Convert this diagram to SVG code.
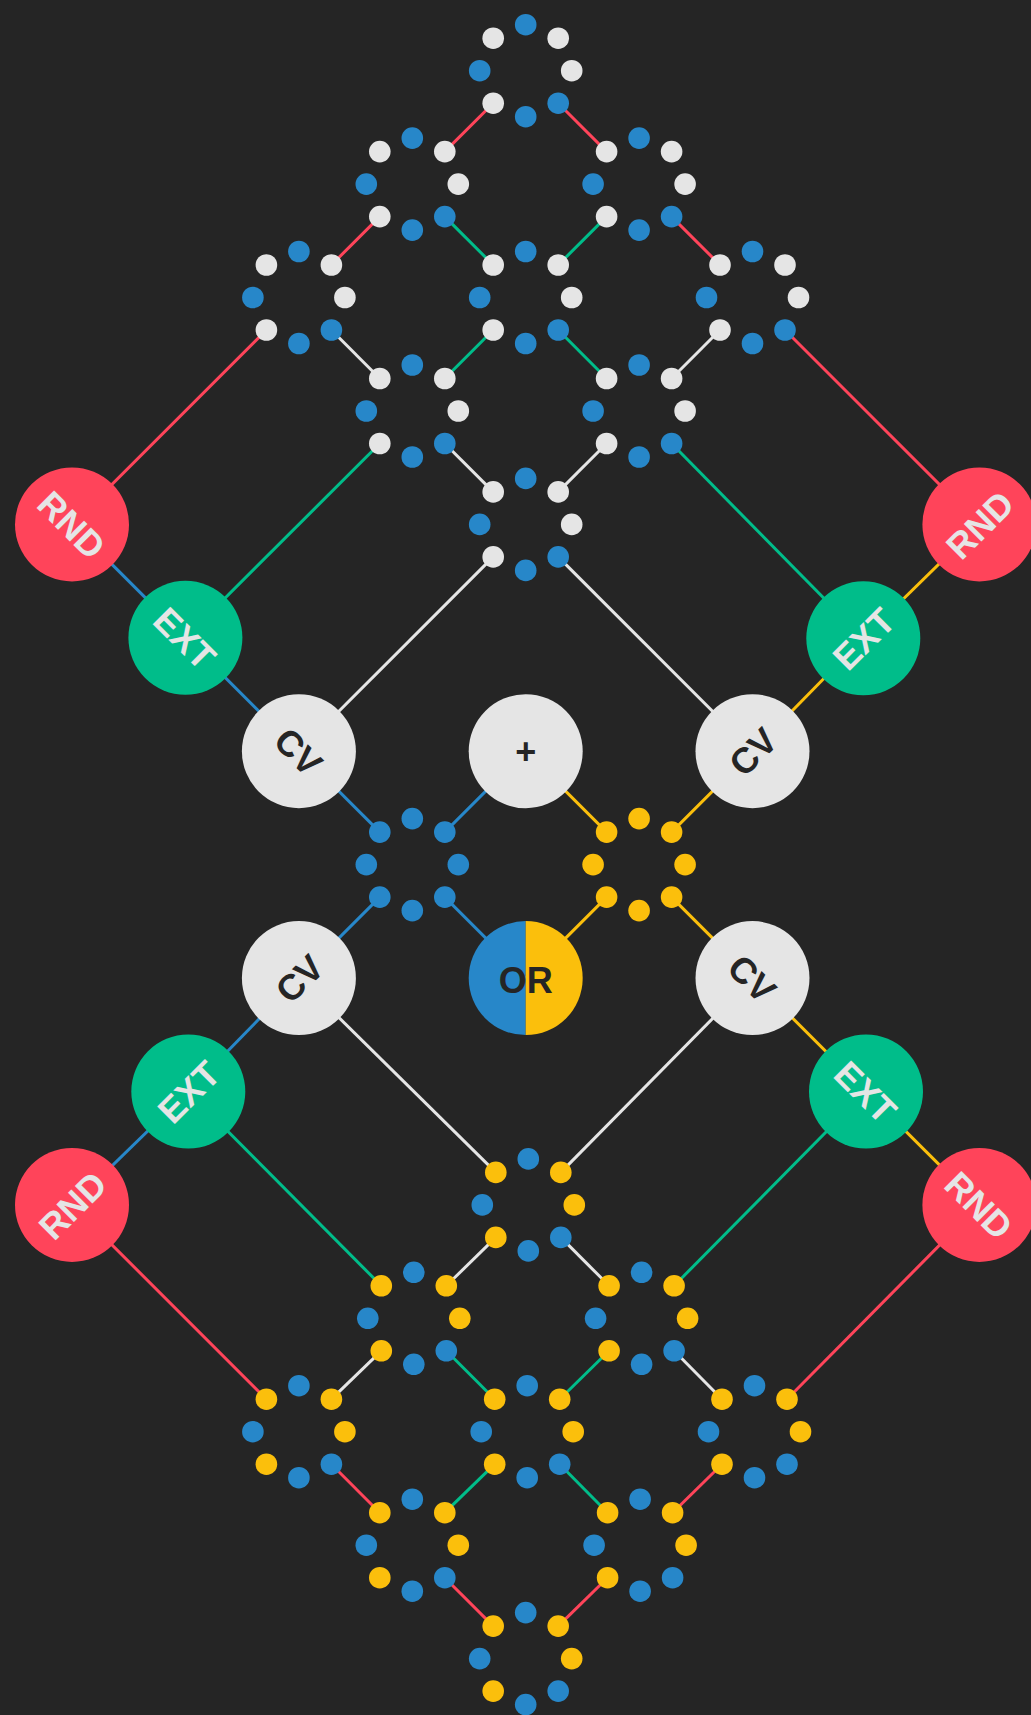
<svg xmlns="http://www.w3.org/2000/svg" xmlns:xlink="http://www.w3.org/1999/xlink" width="1031" height="1715" viewBox="0 0 1031 1715">
<style>
.b{fill:#2787c9}.w{fill:#e5e5e5}.y{fill:#fbbf0c}
.ln{stroke-width:3;fill:none;stroke-linecap:butt}
.lr{stroke:#ff445a}.lg{stroke:#00bd8a}.lw{stroke:#e5e5e5}.lb{stroke:#2787c9}.ly{stroke:#fbbf0c}
.rnd{fill:#ff445a}.ext{fill:#00bd8a}.cv{fill:#e5e5e5}
.t{font-family:"Liberation Sans",Arial,sans-serif;font-weight:bold;font-size:36px;text-anchor:middle;dominant-baseline:central}
.tl{fill:#e5e5e5}.td{fill:#252525}
</style>
<defs>
<g id="ringW">
<circle class="b" cx="0" cy="-46" r="10.8"/><circle class="w" cx="32.5" cy="-32.5" r="10.8"/><circle class="w" cx="46" cy="0" r="10.8"/><circle class="b" cx="32.5" cy="32.5" r="10.8"/><circle class="b" cx="0" cy="46" r="10.8"/><circle class="w" cx="-32.5" cy="32.5" r="10.8"/><circle class="b" cx="-46" cy="0" r="10.8"/><circle class="w" cx="-32.5" cy="-32.5" r="10.8"/>
</g>
<g id="ringY">
<circle class="b" cx="0" cy="-46" r="10.8"/><circle class="y" cx="32.5" cy="-32.5" r="10.8"/><circle class="y" cx="46" cy="0" r="10.8"/><circle class="b" cx="32.5" cy="32.5" r="10.8"/><circle class="b" cx="0" cy="46" r="10.8"/><circle class="y" cx="-32.5" cy="32.5" r="10.8"/><circle class="b" cx="-46" cy="0" r="10.8"/><circle class="y" cx="-32.5" cy="-32.5" r="10.8"/>
</g>
<g id="ringB" class="b">
<circle cx="0" cy="-46" r="10.8"/><circle cx="32.5" cy="-32.5" r="10.8"/><circle cx="46" cy="0" r="10.8"/><circle cx="32.5" cy="32.5" r="10.8"/><circle cx="0" cy="46" r="10.8"/><circle cx="-32.5" cy="32.5" r="10.8"/><circle cx="-46" cy="0" r="10.8"/><circle cx="-32.5" cy="-32.5" r="10.8"/>
</g>
<g id="ringA" class="y">
<circle cx="0" cy="-46" r="10.8"/><circle cx="32.5" cy="-32.5" r="10.8"/><circle cx="46" cy="0" r="10.8"/><circle cx="32.5" cy="32.5" r="10.8"/><circle cx="0" cy="46" r="10.8"/><circle cx="-32.5" cy="32.5" r="10.8"/><circle cx="-46" cy="0" r="10.8"/><circle cx="-32.5" cy="-32.5" r="10.8"/>
</g>
</defs>
<rect width="1031" height="1715" fill="#252525"/>
<g id="connectors" class="ln">
<line class="lr" x1="493.2" y1="103.2" x2="444.8" y2="151.6"/>
<line class="lr" x1="558.2" y1="103.2" x2="606.6" y2="151.6"/>
<line class="lr" x1="379.8" y1="216.6" x2="331.4" y2="265.0"/>
<line class="lg" x1="444.8" y1="216.6" x2="493.2" y2="265.0"/>
<line class="lg" x1="606.6" y1="216.6" x2="558.2" y2="265.0"/>
<line class="lr" x1="671.6" y1="216.6" x2="720.0" y2="265.0"/>
<line class="lw" x1="331.4" y1="330.0" x2="379.8" y2="378.5"/>
<line class="lg" x1="493.2" y1="330.0" x2="444.8" y2="378.5"/>
<line class="lg" x1="558.2" y1="330.0" x2="606.6" y2="378.5"/>
<line class="lw" x1="720.0" y1="330.0" x2="671.6" y2="378.5"/>
<line class="lw" x1="444.8" y1="443.5" x2="493.2" y2="491.9"/>
<line class="lw" x1="606.6" y1="443.5" x2="558.2" y2="491.9"/>
<line class="lr" x1="266.4" y1="330.0" x2="72.0" y2="524.4"/>
<line class="lr" x1="785.0" y1="330.0" x2="979.4" y2="524.4"/>
<line class="lg" x1="379.8" y1="443.5" x2="185.4" y2="637.8"/>
<line class="lg" x1="671.6" y1="443.5" x2="863.3" y2="638.3"/>
<line class="lw" x1="493.2" y1="556.9" x2="298.9" y2="751.2"/>
<line class="lw" x1="558.2" y1="556.9" x2="752.5" y2="751.2"/>
<line class="lb" x1="72.0" y1="524.4" x2="298.9" y2="751.2"/>
<line class="lb" x1="298.9" y1="751.2" x2="379.8" y2="832.1"/>
<line class="lb" x1="525.7" y1="751.2" x2="444.8" y2="832.1"/>
<line class="ly" x1="525.7" y1="751.2" x2="606.6" y2="832.1"/>
<line class="ly" x1="752.5" y1="751.2" x2="671.6" y2="832.1"/>
<line class="ly" x1="979.4" y1="524.4" x2="863.3" y2="638.3"/>
<line class="ly" x1="863.3" y1="638.3" x2="752.5" y2="751.2"/>
<line class="lb" x1="379.8" y1="897.1" x2="298.9" y2="978.1"/>
<line class="lb" x1="444.8" y1="897.1" x2="525.7" y2="978.1"/>
<line class="ly" x1="606.6" y1="897.1" x2="525.7" y2="978.1"/>
<line class="ly" x1="671.6" y1="897.1" x2="752.5" y2="978.1"/>
<line class="lb" x1="298.9" y1="978.1" x2="188.3" y2="1091.5"/>
<line class="lb" x1="188.3" y1="1091.5" x2="72.0" y2="1204.9"/>
<line class="ly" x1="752.5" y1="978.1" x2="979.4" y2="1204.9"/>
<line class="lw" x1="298.9" y1="978.1" x2="495.8" y2="1172.4"/>
<line class="lw" x1="752.5" y1="978.1" x2="560.8" y2="1172.4"/>
<line class="lg" x1="188.3" y1="1091.5" x2="381.3" y2="1285.8"/>
<line class="lg" x1="866.0" y1="1091.5" x2="674.1" y2="1285.8"/>
<line class="lr" x1="72.0" y1="1204.9" x2="266.4" y2="1399.2"/>
<line class="lr" x1="979.4" y1="1204.9" x2="787.0" y2="1399.2"/>
<line class="lw" x1="495.8" y1="1237.4" x2="446.3" y2="1285.8"/>
<line class="lw" x1="560.8" y1="1237.4" x2="609.1" y2="1285.8"/>
<line class="lw" x1="381.3" y1="1350.8" x2="331.4" y2="1399.2"/>
<line class="lg" x1="446.3" y1="1350.8" x2="494.7" y2="1399.2"/>
<line class="lg" x1="609.1" y1="1350.8" x2="559.7" y2="1399.2"/>
<line class="lw" x1="674.1" y1="1350.8" x2="722.0" y2="1399.2"/>
<line class="lr" x1="331.4" y1="1464.2" x2="379.8" y2="1512.7"/>
<line class="lg" x1="494.7" y1="1464.2" x2="444.8" y2="1512.7"/>
<line class="lg" x1="559.7" y1="1464.2" x2="607.6" y2="1512.7"/>
<line class="lr" x1="722.0" y1="1464.2" x2="672.6" y2="1512.7"/>
<line class="lr" x1="444.8" y1="1577.7" x2="493.2" y2="1626.1"/>
<line class="lr" x1="607.6" y1="1577.7" x2="558.2" y2="1626.1"/>
</g>
<g id="rnd-tl"><circle class="rnd" cx="72.0" cy="524.4" r="57"/><text class="t tl" x="72.0" y="525.4" transform="rotate(45 72.0 524.4)">RND</text></g>
<g id="ext-tl"><circle class="ext" cx="185.4" cy="637.8" r="57"/><text class="t tl" x="185.4" y="638.8" transform="rotate(45 185.4 637.8)">EXT</text></g>
<g id="cv-tl"><circle class="cv" cx="298.9" cy="751.2" r="57"/><text class="t td" x="298.9" y="752.2" transform="rotate(45 298.9 751.2)">CV</text></g>
<g id="plus"><circle class="cv" cx="525.7" cy="751.2" r="57"/><text class="t td" x="525.7" y="751.2">+</text></g>
<g id="cv-tr"><circle class="cv" cx="752.5" cy="751.2" r="57"/><text class="t td" x="752.5" y="752.2" transform="rotate(-45 752.5 751.2)">CV</text></g>
<g id="ext-tr"><circle class="ext" cx="863.3" cy="638.3" r="57"/><text class="t tl" x="863.3" y="639.3" transform="rotate(-45 863.3 638.3)">EXT</text></g>
<g id="rnd-tr"><circle class="rnd" cx="979.4" cy="524.4" r="57"/><text class="t tl" x="979.4" y="525.4" transform="rotate(-45 979.4 524.4)">RND</text></g>
<g id="cv-bl"><circle class="cv" cx="298.9" cy="978.1" r="57"/><text class="t td" x="298.9" y="979.1" transform="rotate(-45 298.9 978.1)">CV</text></g>
<g id="or"><path class="b" d="M525.7 921.1A57 57 0 0 0 525.7 1035.1Z"/><path class="y" d="M525.7 921.1A57 57 0 0 1 525.7 1035.1Z"/><text class="t td" x="525.7" y="980">OR</text></g>
<g id="cv-br"><circle class="cv" cx="752.5" cy="978.1" r="57"/><text class="t td" x="752.5" y="979.1" transform="rotate(45 752.5 978.1)">CV</text></g>
<g id="ext-bl"><circle class="ext" cx="188.3" cy="1091.5" r="57"/><text class="t tl" x="188.3" y="1092.5" transform="rotate(-45 188.3 1091.5)">EXT</text></g>
<g id="ext-br"><circle class="ext" cx="866.0" cy="1091.5" r="57"/><text class="t tl" x="866.0" y="1092.5" transform="rotate(45 866.0 1091.5)">EXT</text></g>
<g id="rnd-bl"><circle class="rnd" cx="72.0" cy="1204.9" r="57"/><text class="t tl" x="72.0" y="1205.9" transform="rotate(-45 72.0 1204.9)">RND</text></g>
<g id="rnd-br"><circle class="rnd" cx="979.4" cy="1204.9" r="57"/><text class="t tl" x="979.4" y="1205.9" transform="rotate(45 979.4 1204.9)">RND</text></g>
<g id="c-0-0"><use href="#ringW" x="525.7" y="70.7"/></g>
<g id="c-m1-1"><use href="#ringW" x="412.3" y="184.1"/></g>
<g id="c-p1-1"><use href="#ringW" x="639.1" y="184.1"/></g>
<g id="c-m2-2"><use href="#ringW" x="298.9" y="297.5"/></g>
<g id="c-0-2"><use href="#ringW" x="525.7" y="297.5"/></g>
<g id="c-p2-2"><use href="#ringW" x="752.5" y="297.5"/></g>
<g id="c-m1-3"><use href="#ringW" x="412.3" y="411.0"/></g>
<g id="c-p1-3"><use href="#ringW" x="639.1" y="411.0"/></g>
<g id="c-0-4"><use href="#ringW" x="525.7" y="524.4"/></g>
<g id="c-blue"><use href="#ringB" x="412.3" y="864.6"/></g>
<g id="c-yellow"><use href="#ringA" x="639.1" y="864.6"/></g>
<g id="c-0-10"><use href="#ringY" x="528.3" y="1204.9"/></g>
<g id="c-m1-11"><use href="#ringY" x="413.8" y="1318.3"/></g>
<g id="c-p1-11"><use href="#ringY" x="641.6" y="1318.3"/></g>
<g id="c-m2-12"><use href="#ringY" x="298.9" y="1431.7"/></g>
<g id="c-0-12"><use href="#ringY" x="527.2" y="1431.7"/></g>
<g id="c-p2-12"><use href="#ringY" x="754.5" y="1431.7"/></g>
<g id="c-m1-13"><use href="#ringY" x="412.3" y="1545.2"/></g>
<g id="c-p1-13"><use href="#ringY" x="640.1" y="1545.2"/></g>
<g id="c-0-14"><use href="#ringY" x="525.7" y="1658.6"/></g>
</svg>
